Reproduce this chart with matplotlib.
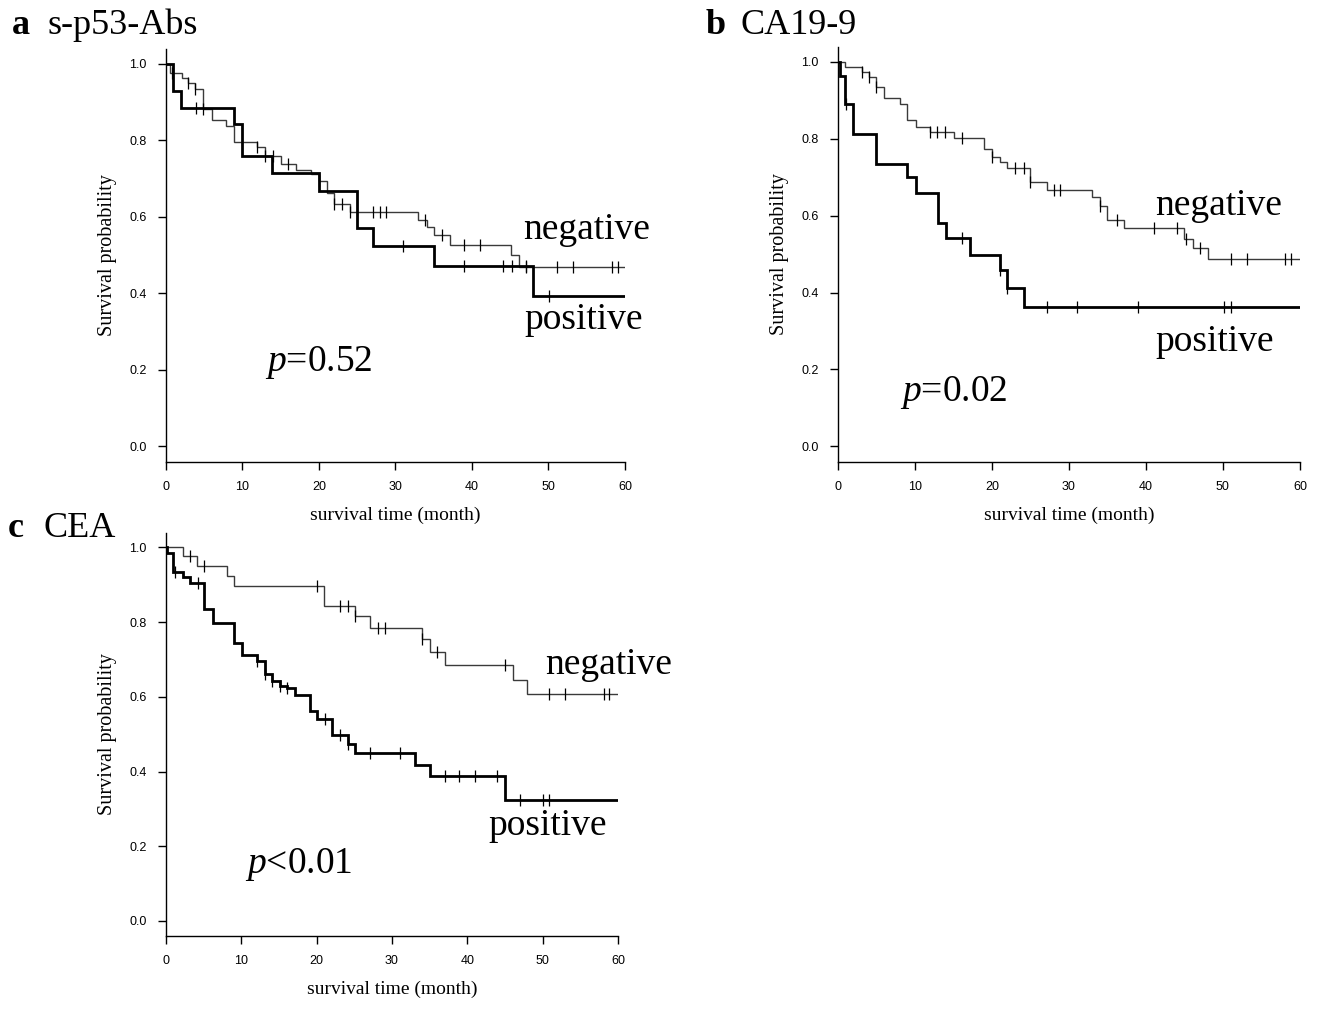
import numpy as np
import matplotlib
matplotlib.use('Agg')
import matplotlib.pyplot as plt

SERIF = ['Liberation Serif', 'DejaVu Serif']
SANS = ['Liberation Sans', 'DejaVu Sans']

# italic p in the annotations should be the same serif face as the rest
plt.rcParams['mathtext.fontset'] = 'custom'
plt.rcParams['mathtext.it'] = 'Liberation Serif:italic'
plt.rcParams['mathtext.rm'] = 'Liberation Serif'

# ── a: s-p53-Abs ────────────────────────────────────────────
a_neg_t = [0.5, 2.05, 2.9, 3.8, 4.8, 6.0, 7.9, 8.9, 11.85, 12.9, 15.1, 17.0, 19.0,
           20.0, 21.0, 22.0, 24.0, 33.0, 34.1, 35.0, 37.1, 45.1, 46.1]
a_neg_s = [0.976, 0.963, 0.950, 0.935, 0.882, 0.854, 0.838, 0.795, 0.782, 0.758, 0.739,
           0.723, 0.713, 0.693, 0.662, 0.634, 0.614, 0.593, 0.573, 0.554, 0.527, 0.501, 0.469]
a_neg_c = [0.75, 2.9, 3.8, 4.9, 11.85, 12.9, 14.0, 16.0, 20.0, 22.0, 23.0, 24.1, 27.1,
           28.0, 28.8, 33.9, 36.1, 39.0, 41.0, 47.1, 51.1, 53.2, 58.3, 59.1]
a_pos_t = [0.87, 1.96, 8.9, 10.0, 13.9, 20.0, 25.0, 27.1, 35.0, 48.0]
a_pos_s = [0.928, 0.886, 0.843, 0.760, 0.715, 0.667, 0.571, 0.523, 0.471, 0.393]
a_pos_c = [3.9, 31.0, 39.0, 44.1, 45.2, 47.0, 50.1]

# ── b: CA19-9 ───────────────────────────────────────────────
b_neg_t = [0.9, 3.1, 4.0, 4.9, 6.0, 8.0, 9.0, 10.1, 12.0, 15.1, 19.0, 20.0, 21.0, 22.0,
           24.9, 27.1, 33.0, 34.0, 35.0, 37.1, 45.0, 46.1, 48.1]
b_neg_s = [0.987, 0.974, 0.961, 0.935, 0.906, 0.890, 0.848, 0.832, 0.817, 0.803, 0.774,
           0.754, 0.739, 0.724, 0.687, 0.667, 0.648, 0.626, 0.589, 0.568, 0.539, 0.517, 0.487]
b_neg_c = [3.1, 4.0, 4.9, 12.0, 12.9, 13.9, 16.1, 20.0, 23.0, 24.1, 24.9, 28.1, 28.9,
           34.0, 36.2, 41.0, 44.0, 45.2, 47.0, 51.1, 53.1, 58.1, 58.9]
b_pos_t = [0.2, 0.9, 2.0, 4.9, 9.0, 10.1, 13.0, 14.0, 17.1, 21.0, 22.0, 24.1]
b_pos_s = [0.963, 0.890, 0.813, 0.735, 0.700, 0.658, 0.581, 0.541, 0.498, 0.458, 0.413, 0.363]
b_pos_c = [1.0, 16.1, 21.0, 22.0, 27.1, 31.0, 39.0, 50.1, 51.1]

# ── c: CEA ──────────────────────────────────────────────────
c_neg_t = [2.2, 4.1, 8.1, 9.0, 21.0, 25.1, 27.1, 34.0, 35.0, 37.0, 46.0, 47.9]
c_neg_s = [0.977, 0.950, 0.924, 0.897, 0.844, 0.816, 0.785, 0.754, 0.719, 0.685, 0.645, 0.608]
c_neg_c = [3.2, 5.0, 20.0, 23.1, 24.1, 25.1, 28.1, 29.1, 34.0, 36.0, 45.0, 50.9, 53.0,
           58.1, 58.8]
c_pos_t = [0.1, 1.0, 2.2, 3.2, 5.0, 6.2, 9.0, 10.1, 12.1, 13.1, 14.1, 15.1, 16.1, 17.1,
           19.1, 20.1, 22.1, 24.1, 25.1, 33.1, 35.0, 45.0]
c_pos_s = [0.986, 0.935, 0.922, 0.904, 0.834, 0.798, 0.745, 0.712, 0.695, 0.661, 0.643,
           0.630, 0.623, 0.604, 0.561, 0.542, 0.499, 0.473, 0.449, 0.418, 0.389, 0.325]
c_pos_c = [1.2, 4.2, 12.1, 13.1, 14.1, 15.1, 16.1, 21.1, 23.1, 24.1, 27.1, 31.0, 37.0,
           38.9, 41.0, 43.9, 47.0, 50.1, 50.8]

x_ticks = [0, 10, 20, 30, 40, 50, 60]
y_ticks = [0.0, 0.2, 0.4, 0.6, 0.8, 1.0]


def km_curve(ax, times, surv, cens, color, lw):
    xs = [0.0] + list(times) + [60.0]
    ys = [1.0] + list(surv) + [surv[-1]]
    ax.step(xs, ys, where='post', color=color, lw=lw, solid_joinstyle='miter')
    # censor marks sit on the curve value at each censoring time
    idx = np.searchsorted(xs, cens, side='right') - 1
    cy = np.array(ys)[idx]
    ax.plot(cens, cy, ls='none', marker='|', ms=9, mew=0.9, color='black')


def panel(rect, letter, title, title_xy, neg, pos, labels):
    ax = fig.add_axes(rect)
    km_curve(ax, *neg, color='#3a3a3a', lw=1.0)
    km_curve(ax, *pos, color='black', lw=2.0)
    ax.set_xlim(0, 60)
    ax.set_ylim(-0.04, 1.04)
    for s in ('top', 'right'):
        ax.spines[s].set_visible(False)
    for s in ('left', 'bottom'):
        ax.spines[s].set_linewidth(1.0)
    ax.set_xticks(x_ticks)
    ax.set_yticks(y_ticks)
    ax.set_yticklabels([f'{v:.1f}' for v in y_ticks])
    ax.tick_params(length=6, width=1.0, labelsize=9, pad=8)
    for lab in ax.get_xticklabels() + ax.get_yticklabels():
        lab.set_family(SANS)
    ax.set_xlabel('survival time (month)', family=SERIF, fontsize=14, labelpad=10)
    ax.set_ylabel('Survival probability', family=SERIF, fontsize=14.5, labelpad=9)
    for (tx, ty, txt) in labels:
        ax.text(tx, ty, txt, family=SERIF, fontsize=27, ha='left', va='center')
    fig.text(title_xy[0], title_xy[1], letter, family=SERIF, fontsize=26,
             fontweight='bold', ha='left', va='baseline')
    fig.text(title_xy[0] + 0.027, title_xy[1], title, family=SERIF, fontsize=26,
             ha='left', va='baseline')
    return ax


fig = plt.figure(figsize=(13.18, 10.09), dpi=100)

panel([0.1259, 0.5424, 0.3483, 0.4094], 'a', 's-p53-Abs', (0.009, 0.966),
      (a_neg_t, a_neg_s, a_neg_c), (a_pos_t, a_pos_s, a_pos_c),
      [(46.7, 0.567, 'negative'), (46.8, 0.332, 'positive'),
       (12.9, 0.219, '$p$=0.52')])

panel([0.6358, 0.5424, 0.3505, 0.4114], 'b', 'CA19-9', (0.535, 0.966),
      (b_neg_t, b_neg_s, b_neg_c), (b_pos_t, b_pos_s, b_pos_c),
      [(41.2, 0.625, 'negative'), (41.2, 0.273, 'positive'),
       (8.05, 0.141, '$p$=0.02')])

panel([0.1259, 0.0725, 0.3430, 0.3997], 'c', 'CEA', (0.006, 0.468),
      (c_neg_t, c_neg_s, c_neg_c), (c_pos_t, c_pos_s, c_pos_c),
      [(50.3, 0.685, 'negative'), (42.8, 0.254, 'positive'),
       (10.5, 0.150, '$p$<0.01')])

fig.savefig('out.png', dpi=100, facecolor='white')
